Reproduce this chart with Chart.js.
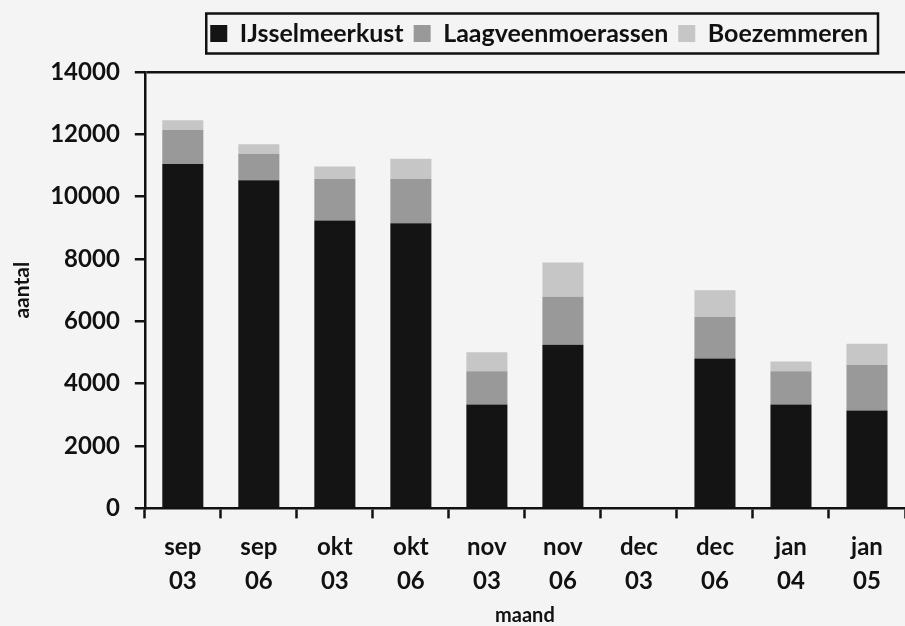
<!DOCTYPE html>
<html>
<head>
<meta charset="utf-8">
<script src="https://cdn.jsdelivr.net/npm/chart.js@4"></script>
<style>
  body { margin: 0; background: #f4f4f4; }
  #wrap { width: 905px; height: 626px; }
</style>
</head>
<body>
<div id="wrap"><canvas id="myChart"></canvas></div>
<script>
// maand labels (two lines each)
var labels = [['sep', '03'], ['sep', '06'], ['okt', '03'], ['okt', '06'], ['nov', '03'],
              ['nov', '06'], ['dec', '03'], ['dec', '06'], ['jan', '04'], ['jan', '05']];

// stacked counts per area
var ijsselmeerkust    = [11050, 10530, 9240, 9150, 3330, 5250, 0, 4810, 3330, 3140];
var laagveenmoerassen = [1090, 850, 1330, 1420, 1070, 1540, 0, 1330, 1070, 1460];
var boezemmeren       = [310, 300, 400, 650, 610, 1100, 0, 860, 310, 680];

var font = 'Lato, "Open Sans", sans-serif';

// page background, legend placement and the box round the legend
var paperAndBox = {
    id: 'paperAndBox',
    beforeInit: function(chart) {
        var fit = chart.legend.fit;
        chart.legend.fit = function() {
            fit.call(this);
            this.height = 72;
        };
    },
    afterLayout: function(chart) {
        chart.legend.right -= 27;
        chart.legend.top += 11;
        chart.legend.bottom += 11;
    },
    beforeDraw: function(chart) {
        var c = chart.ctx;
        c.save();
        c.fillStyle = '#f4f4f4';
        c.fillRect(0, 0, chart.width, chart.height);
        c.restore();
    },
    afterDraw: function(chart) {
        var boxes = chart.legend.legendHitBoxes;
        if (!boxes || !boxes.length) return;
        var l = Infinity, r = -Infinity, t = Infinity, b = -Infinity;
        boxes.forEach(function(h) {
            l = Math.min(l, h.left); r = Math.max(r, h.left + h.width);
            t = Math.min(t, h.top); b = Math.max(b, h.top + h.height);
        });
        var mid = (t + b) / 2;
        var c = chart.ctx;
        c.save();
        c.strokeStyle = '#111';
        c.lineWidth = 2.5;
        c.strokeRect(l - 4, mid - 20, (r - l) + 14, 40);
        c.restore();
    }
};

var ctx = document.getElementById('myChart').getContext('2d');
var myChart = new Chart(ctx, {
    type: 'bar',
    data: {
        labels: labels,
        datasets: [{
            label: 'IJsselmeerkust',
            data: ijsselmeerkust,
            backgroundColor: '#141414'
        }, {
            label: 'Laagveenmoerassen',
            data: laagveenmoerassen,
            backgroundColor: '#999999'
        }, {
            label: 'Boezemmeren',
            data: boezemmeren,
            backgroundColor: '#c6c6c6'
        }]
    },
    options: {
        responsive: true,
        maintainAspectRatio: false,
        animation: false,
        datasets: {
            bar: { categoryPercentage: 1, barPercentage: 0.54 }
        },
        layout: { padding: { left: 10, right: 0, top: 0, bottom: 0 } },
        plugins: {
            tooltip: { enabled: false },
            legend: {
                position: 'top',
                align: 'end',
                labels: {
                    color: '#111',
                    boxWidth: 17,
                    boxHeight: 17,
                    padding: 10,
                    font: { family: font, size: 25, weight: 'bold' }
                }
            }
        },
        scales: {
            x: {
                stacked: true,
                offset: true,
                border: { display: true, color: '#111', width: 2.5 },
                grid: {
                    offset: true,
                    drawOnChartArea: false,
                    drawTicks: true,
                    tickLength: 10,
                    tickColor: '#111',
                    tickWidth: 2.5
                },
                ticks: {
                    color: '#111',
                    maxRotation: 0,
                    padding: 11,
                    font: { family: font, size: 24, weight: 'bold', lineHeight: 1.45 }
                },
                title: {
                    display: true,
                    text: 'maand',
                    color: '#111',
                    padding: { top: -6, bottom: -2 },
                    font: { family: font, size: 20, weight: 'bold' }
                }
            },
            y: {
                stacked: true,
                min: 0,
                max: 14000,
                border: { display: true, color: '#111', width: 2.5 },
                grid: {
                    drawOnChartArea: true,
                    color: function(c) { return c.tick && c.tick.value === 14000 ? '#111' : 'rgba(0,0,0,0)'; },
                    lineWidth: 2.5,
                    tickLength: 10,
                    tickColor: '#111',
                    tickWidth: 2.5
                },
                ticks: {
                    stepSize: 2000,
                    color: '#111',
                    padding: 15,
                    font: { family: font, size: 24, weight: 'bold' },
                    callback: function(v) { return String(v); }
                },
                title: {
                    display: true,
                    text: 'aantal',
                    color: '#111',
                    padding: { top: 0, bottom: 0 },
                    font: { family: font, size: 21, weight: 'bold' }
                }
            }
        }
    },
    plugins: [paperAndBox]
});
</script>
</body>
</html>
